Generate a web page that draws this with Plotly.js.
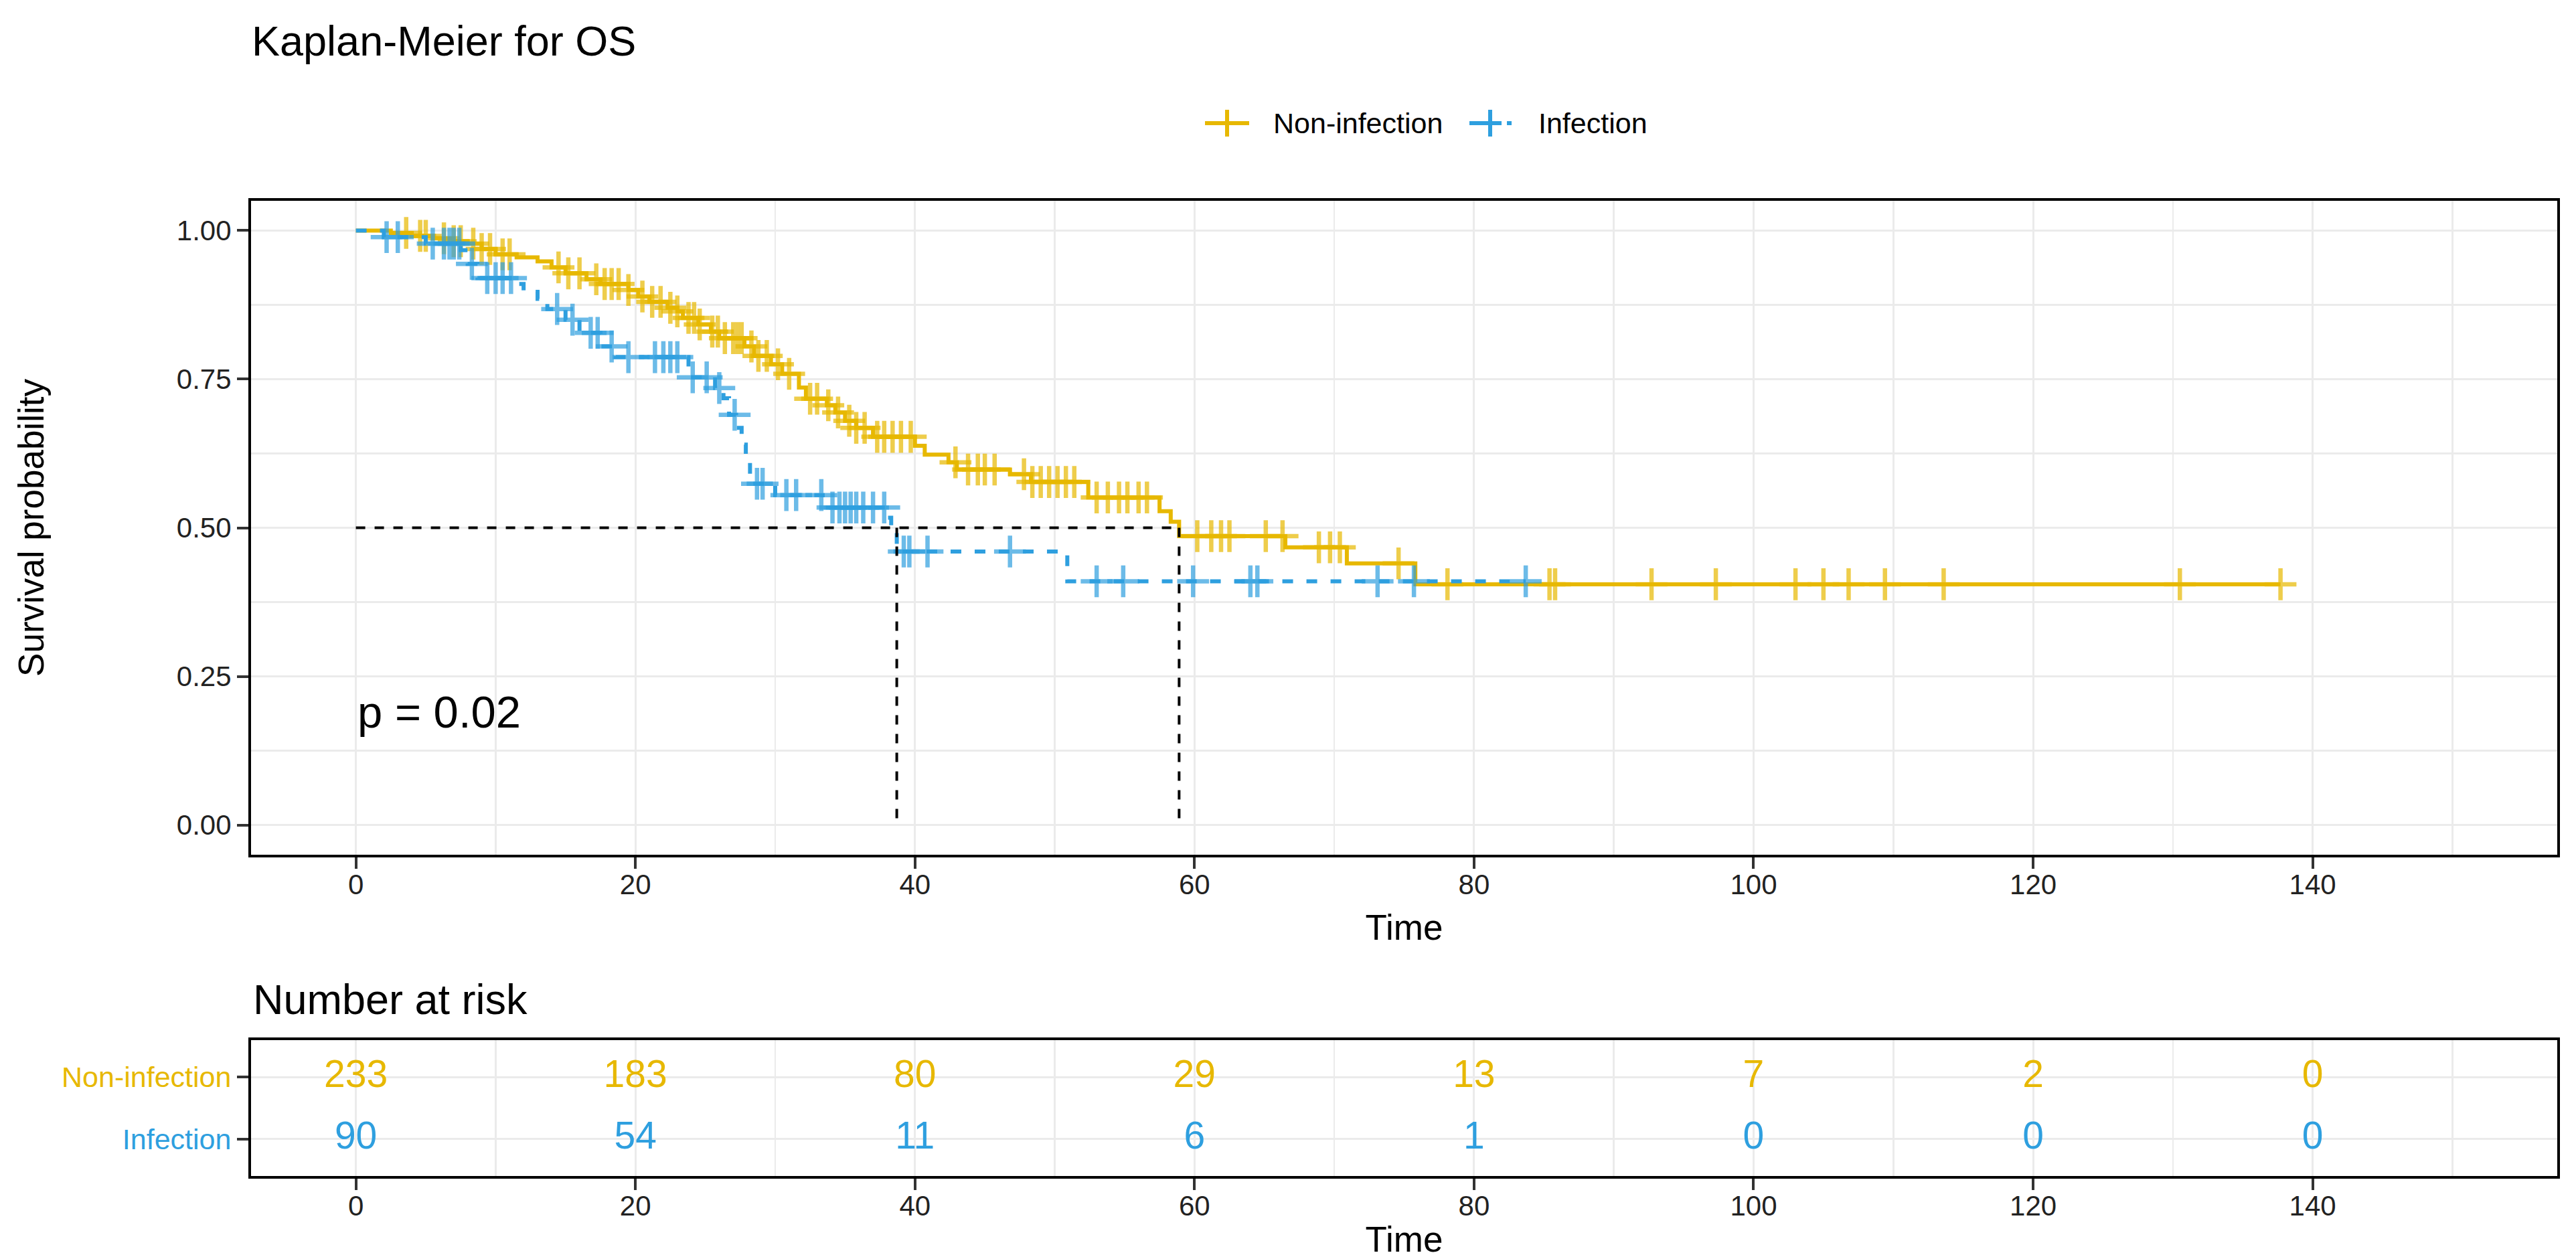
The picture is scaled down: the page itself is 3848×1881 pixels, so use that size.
<!DOCTYPE html>
<html>
<head>
<meta charset="utf-8">
<script src="https://cdn.plot.ly/plotly-3.0.1.min.js"></script>
<style>
  html, body { margin: 0; padding: 0; background: #fff; }
  #plot { width: 3848px; height: 1881px; }
</style>
</head>
<body>
<div id="plot"></div>
<script>
// Kaplan-Meier steps (time, survival)
const nonInfStepTime = [0, 2.5, 4.0, 5.5, 7.0, 8.0, 9.0, 10.0, 11.5, 13.0,
  14.0, 15.0, 16.5, 17.5, 19.5, 20.2, 21.0, 22.3, 23.0, 23.4,
  24.5, 25.4, 26.0, 27.8, 28.5, 29.7, 30.5, 31.7, 32.2, 33.7,
  34.3, 35.0, 35.8, 37.0, 40.0, 40.7, 42.4, 43.0, 46.8, 48.3,
  52.4, 57.5, 58.3, 58.9, 66.5, 70.9, 75.8];
const nonInfStepSurv = [1.000, 0.996, 0.991, 0.987, 0.982, 0.978, 0.969, 0.960, 0.955, 0.948,
  0.938, 0.928, 0.918, 0.910, 0.900, 0.889, 0.880, 0.870, 0.864, 0.853,
  0.842, 0.830, 0.819, 0.805, 0.789, 0.775, 0.759, 0.736, 0.717, 0.706,
  0.694, 0.680, 0.668, 0.653, 0.638, 0.623, 0.610, 0.598, 0.590, 0.577,
  0.551, 0.528, 0.510, 0.486, 0.467, 0.440, 0.405];
const nonInfCensor = [3.6, 4.6, 5.0, 6.3, 7.0, 7.5, 8.4, 9.0, 9.6, 10.5, 11.0, 14.5, 15.2, 16.0,
  17.2, 17.8, 18.3, 18.8, 19.5, 20.5, 21.2, 21.8, 22.5, 23.0, 23.8, 24.2, 24.6, 25.5,
  25.9, 26.4, 27.0, 27.3, 27.6, 28.3, 28.8, 29.4, 30.2, 31.0, 32.5, 33.0, 33.8, 34.5,
  35.3, 35.8, 36.4, 37.3, 37.8, 38.4, 39.0, 39.7, 42.9, 43.8, 44.5, 45.0, 45.7, 47.8,
  48.4, 49.0, 49.6, 50.2, 50.8, 51.4, 53.0, 53.8, 54.6, 55.2, 56.0, 56.6, 60.2, 61.2,
  61.9, 62.5, 65.1, 66.3, 68.9, 69.7, 70.4, 74.6, 78.1, 85.4, 85.8, 92.7, 97.3, 103.0,
  105.0, 106.8, 109.4, 113.6, 130.5, 137.7];

const infStepTime = [0, 2.0, 5.0, 7.5, 8.0, 8.7, 11.5, 12.0, 13.0, 13.7,
  15.0, 16.0, 17.5, 18.6, 23.8, 25.7, 26.3, 26.7, 27.2, 27.6,
  27.9, 28.2, 30.0, 33.4, 38.0, 38.3, 38.7, 50.9];
const infStepSurv = [1.000, 0.989, 0.978, 0.967, 0.944, 0.920, 0.910, 0.897, 0.885, 0.868,
  0.850, 0.828, 0.805, 0.787, 0.753, 0.735, 0.718, 0.690, 0.668, 0.640,
  0.615, 0.574, 0.555, 0.534, 0.517, 0.494, 0.460, 0.410];
const infCensor = [2.2, 3.0, 5.5, 6.3, 6.7, 7.0, 7.4, 8.3, 9.4, 10.0, 10.5, 11.1, 14.4, 15.5,
  16.8, 17.3, 18.3, 19.5, 21.4, 22.0, 22.5, 23.0, 24.1, 25.1, 26.0, 27.1, 28.7, 29.1,
  30.8, 31.5, 33.3, 34.1, 34.6, 35.0, 35.4, 35.8, 36.3, 37.0, 37.8, 39.2, 39.6, 40.9,
  46.8, 53.0, 54.9, 59.9, 64.0, 64.5, 73.1, 75.7, 83.7];

const medianTimes = [38.7, 58.9];
const medianLevel = 0.5;
const pValueText = 'p = 0.02';

// number at risk table
const groups = ['Infection', 'Non-infection'];
const riskTimes = [0, 20, 40, 60, 80, 100, 120, 140];
const riskNonInf = [233, 183, 80, 29, 13, 7, 2, 0];
const riskInf = [90, 54, 11, 6, 1, 0, 0, 0];

const GOLD = '#E7B800';
const BLUE = '#2E9FDF';
const FONT = 'Liberation Sans, Arial, sans-serif';

// pixel -> paper helpers for the 3848x1881 page
const W = 3848, H = 1881;
const px = v => v / W;
const py = v => 1 - v / H;

function survAt(stepT, stepS, t) {
  let s = stepS[0];
  for (let i = 0; i < stepT.length; i++) if (stepT[i] <= t) s = stepS[i];
  return s;
}

// step points plus censor points on the same path; markers only on censors
function buildCurve(stepT, stepS, cens) {
  const pts = stepT.map((t, i) => ({ t: t, s: stepS[i], c: 0 }));
  cens.forEach(t => pts.push({ t: t, s: survAt(stepT, stepS, t), c: 1 }));
  pts.sort((a, b) => (a.t - b.t) || (a.c - b.c));
  return {
    x: pts.map(p => p.t),
    y: pts.map(p => p.s),
    size: pts.map(p => (p.c ? 34 : 0))
  };
}

const gold = buildCurve(nonInfStepTime, nonInfStepSurv, nonInfCensor);
const blue = buildCurve(infStepTime, infStepSurv, infCensor);

const traceNonInf = {
  x: gold.x, y: gold.y, type: 'scatter', mode: 'lines+markers',
  name: 'Non-infection', xaxis: 'x', yaxis: 'y',
  line: { color: GOLD, width: 6, shape: 'hv' },
  marker: { symbol: 'cross-thin', size: gold.size, color: GOLD, line: { color: GOLD, width: 6.5 } },
  showlegend: false
};
const traceInf = {
  x: blue.x, y: blue.y, type: 'scatter', mode: 'lines+markers',
  name: 'Infection', xaxis: 'x', yaxis: 'y',
  line: { color: BLUE, width: 6, shape: 'hv', dash: '16px,20px' },
  marker: { symbol: 'cross-thin', size: blue.size, color: BLUE, line: { color: BLUE, width: 6.5 } },
  showlegend: false
};

const mx = [0, Math.max(...medianTimes)];
const my = [medianLevel, medianLevel];
medianTimes.forEach(t => { mx.push(null, t, t); my.push(null, medianLevel, 0); });
const traceMedian = {
  x: mx, y: my, type: 'scatter', mode: 'lines', xaxis: 'x', yaxis: 'y',
  line: { color: '#000', width: 4, dash: '14px,14px' },
  showlegend: false, hoverinfo: 'skip'
};

const riskNonTrace = {
  x: riskTimes, y: riskTimes.map(() => groups[1]), text: riskNonInf.map(String),
  type: 'scatter', mode: 'text', xaxis: 'x2', yaxis: 'y2',
  textfont: { family: FONT, size: 57, color: GOLD }, showlegend: false
};
const riskInfTrace = {
  x: riskTimes, y: riskTimes.map(() => groups[0]), text: riskInf.map(String),
  type: 'scatter', mode: 'text', xaxis: 'x2', yaxis: 'y2',
  textfont: { family: FONT, size: 57, color: BLUE }, showlegend: false
};

const gridColor = '#EBEBEB';
const baseX = {
  range: [-7.5, 157.5], tick0: 0, dtick: 20, ticks: 'outside', ticklen: 17, tickwidth: 4,
  tickcolor: '#333', showline: true, linecolor: '#000', linewidth: 4, mirror: true,
  showgrid: true, gridcolor: gridColor, gridwidth: 3, zeroline: false,
  minor: { dtick: 10, showgrid: true, gridcolor: gridColor, gridwidth: 2.5 },
  tickfont: { family: FONT, size: 42, color: '#222' }, ticklabelstandoff: -12,
  domain: [px(375), px(3820)]
};

const layout = {
  width: W, height: H,
  margin: { l: 0, r: 0, t: 0, b: 0 },
  paper_bgcolor: '#fff', plot_bgcolor: '#fff',
  font: { family: FONT, color: '#000' },
  showlegend: false,
  title: {
    text: 'Kaplan-Meier for OS', x: px(376), xanchor: 'left', xref: 'paper',
    y: py(61), yanchor: 'middle', yref: 'paper',
    font: { family: FONT, size: 63, color: '#000' }
  },
  xaxis: Object.assign({}, baseX, {
    anchor: 'y',
    title: { text: 'Time', standoff: 23, font: { family: FONT, size: 53, color: '#000' } }
  }),
  yaxis: {
    anchor: 'x', domain: [py(1277), py(300)], range: [-0.05, 1.05],
    tickvals: [0, 0.25, 0.5, 0.75, 1], ticktext: ['0.00', '0.25', '0.50', '0.75', '1.00'],
    ticks: 'outside', ticklen: 17, tickwidth: 4, tickcolor: '#333',
    showline: true, linecolor: '#000', linewidth: 4, mirror: true,
    showgrid: true, gridcolor: gridColor, gridwidth: 3, zeroline: false,
    minor: { dtick: 0.125, tick0: 0, showgrid: true, gridcolor: gridColor, gridwidth: 2.5 },
    tickfont: { family: FONT, size: 42, color: '#222' },
    title: { text: 'Survival probability', standoff: 182, font: { family: FONT, size: 53, color: '#000' } }
  },
  xaxis2: Object.assign({}, baseX, {
    anchor: 'y2',
    title: { text: 'Time', standoff: 56, font: { family: FONT, size: 53, color: '#000' } }
  }),
  yaxis2: {
    anchor: 'x2', domain: [py(1757), py(1554)], type: 'category',
    categoryorder: 'array', categoryarray: groups, range: [-0.6, 1.6],
    tickmode: 'array', tickvals: groups,
    ticktext: ['<span style="color:' + BLUE + '">' + groups[0] + '</span>',
               '<span style="color:' + GOLD + '">' + groups[1] + '</span>'],
    ticks: 'outside', ticklen: 17, tickwidth: 4, tickcolor: '#333',
    showline: true, linecolor: '#000', linewidth: 4, mirror: true,
    showgrid: true, gridcolor: gridColor, gridwidth: 3, zeroline: false,
    tickfont: { family: FONT, size: 43 }
  },
  annotations: [
    { xref: 'x', yref: 'y', x: 0, y: 0.19, text: pValueText, showarrow: false,
      xanchor: 'left', yanchor: 'middle', font: { family: FONT, size: 67, color: '#000' } },
    { xref: 'paper', yref: 'paper', x: px(376), y: py(1493), text: 'Number at risk', showarrow: false,
      xanchor: 'left', yanchor: 'middle', font: { family: FONT, size: 63, color: '#000' } },
    { xref: 'paper', yref: 'paper', x: px(1900), y: py(184), text: groups[1], showarrow: false,
      xanchor: 'left', yanchor: 'middle', font: { family: FONT, size: 43, color: '#000' } },
    { xref: 'paper', yref: 'paper', x: px(2296), y: py(184), text: groups[0], showarrow: false,
      xanchor: 'left', yanchor: 'middle', font: { family: FONT, size: 43, color: '#000' } }
  ],
  shapes: [
    // legend keys
    { type: 'line', xref: 'paper', yref: 'paper', x0: px(1800), x1: px(1866), y0: py(184), y1: py(184),
      line: { color: GOLD, width: 6 } },
    { type: 'line', xref: 'paper', yref: 'paper', x0: px(1833), x1: px(1833), y0: py(164), y1: py(204),
      line: { color: GOLD, width: 6 } },
    { type: 'line', xref: 'paper', yref: 'paper', x0: px(2195), x1: px(2258), y0: py(184), y1: py(184),
      line: { color: BLUE, width: 6, dash: '16px,12px' } },
    { type: 'line', xref: 'paper', yref: 'paper', x0: px(2210), x1: px(2243), y0: py(184), y1: py(184),
      line: { color: BLUE, width: 6 } },
    { type: 'line', xref: 'paper', yref: 'paper', x0: px(2226), x1: px(2226), y0: py(164), y1: py(204),
      line: { color: BLUE, width: 6 } }
  ]
};

const config = { displayModeBar: false, staticPlot: true };

Plotly.newPlot('plot', [traceNonInf, traceInf, traceMedian, riskNonTrace, riskInfTrace], layout, config);
</script>
</body>
</html>
